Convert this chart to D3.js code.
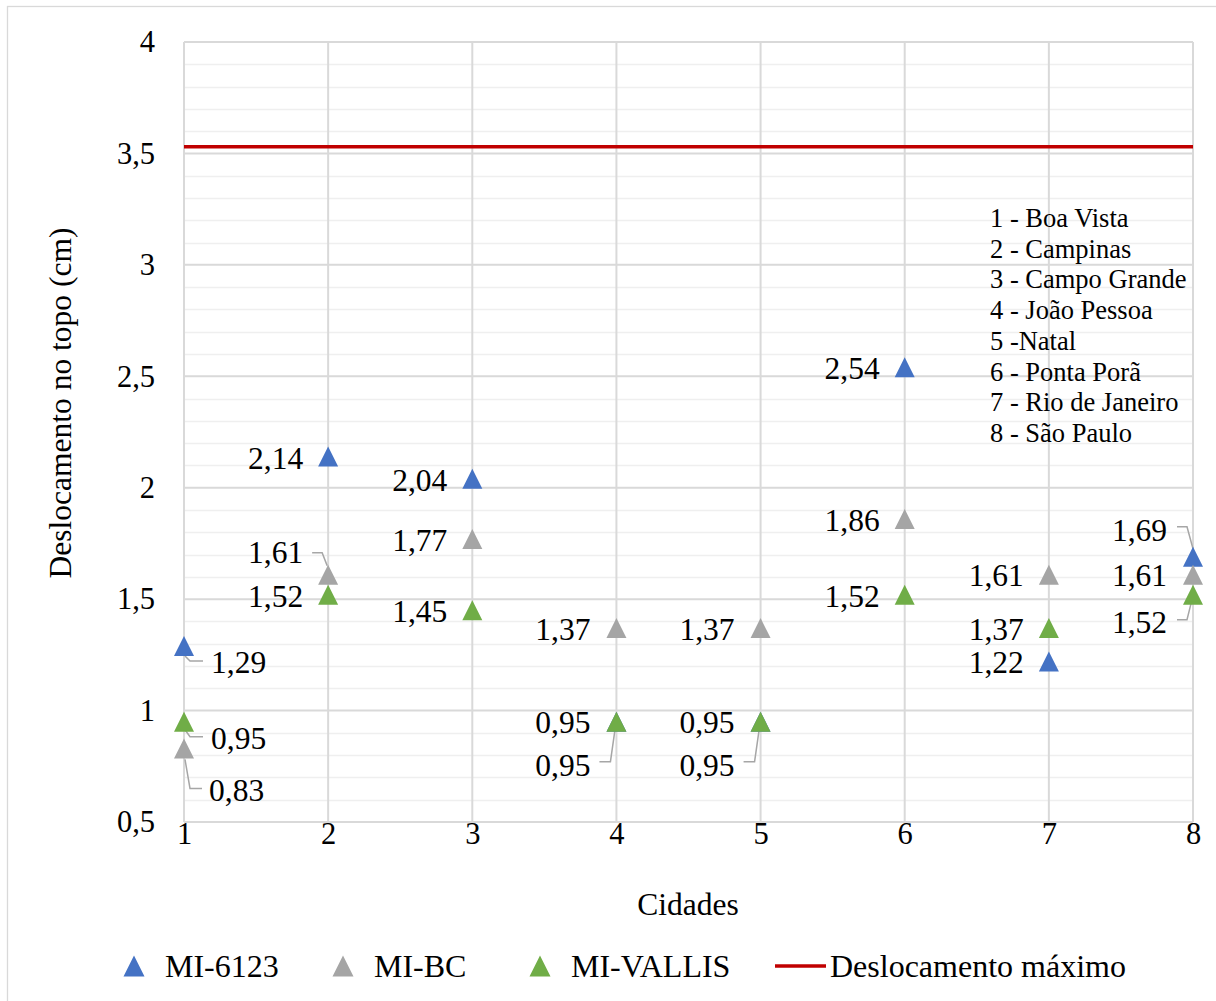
<!DOCTYPE html>
<html>
<head>
<meta charset="utf-8">
<script src="https://cdn.jsdelivr.net/npm/d3@7"></script>
<style>
  html, body { margin: 0; padding: 0; background: #fff; }
  svg { display: block; font-family: "Liberation Serif", "Times New Roman", serif; }
</style>
</head>
<body>
<svg id="chart" width="1216" height="1001"></svg>
<script>
// Cities (x axis categories) and their names
const cities = [1, 2, 3, 4, 5, 6, 7, 8];
const cityNames = [
  "1 - Boa Vista", "2 - Campinas", "3 - Campo Grande", "4 - João Pessoa",
  "5 -Natal", "6 - Ponta Porã", "7 - Rio de Janeiro", "8 - São Paulo"
];

// Top displacement (cm) per city for each model
const mi6123   = [1.29, 2.14, 2.04, 0.95, 0.95, 2.54, 1.22, 1.69];
const miBC     = [0.83, 1.61, 1.77, 1.37, 1.37, 1.86, 1.61, 1.61];
const miVallis = [0.95, 1.52, 1.45, 0.95, 0.95, 1.52, 1.37, 1.52];

// Maximum allowed displacement (cm)
const deslocMax = 3.53;

// Axis ticks
const yTicks = [0.5, 1, 1.5, 2, 2.5, 3, 3.5, 4];
const yTickLabels = ["0,5", "1", "1,5", "2", "2,5", "3", "3,5", "4"];
const xTickLabels = ["1", "2", "3", "4", "5", "6", "7", "8"];

const seriesNames = ["MI-6123", "MI-BC", "MI-VALLIS"];
const seriesColors = ["#4472c4", "#a5a5a5", "#70ad47"];
const seriesValues = [mi6123, miBC, miVallis];

// Data label placement: [anchor, dx, dy, leader polyline relative to the point or null]
const labelLayout = [
  [ // MI-6123 (points at cities 4 and 5 sit under MI-VALLIS, so their labels go below)
    ["start", 27, 16, [[1, 10], [6, 15], [19, 15]]],
    ["end", -25, 1.5, null],
    ["end", -25, 1, null],
    ["end", -26, 43, [[-17, 40], [-6, 40], [-1, 5]]],
    ["end", -26, 43, [[-17, 40], [-6, 40], [-1, 5]]],
    ["end", -25, 0.6, null],
    ["end", -25, 0, null],
    ["end", -26, -27, [[-16, -30], [-6, -30], [0, -8]]]
  ],
  [ // MI-BC
    ["start", 25, 41.5, [[1, 11], [6, 40], [18, 40]]],
    ["end", -25, -22.6, [[-16, -22], [-6, -22], [-1, -9]]],
    ["end", -25, 1, null],
    ["end", -26, 1, null],
    ["end", -26, 1, null],
    ["end", -25, 1, null],
    ["end", -25, 0, null],
    ["end", -26, 0, null]
  ],
  [ // MI-VALLIS
    ["start", 27, 16, [[1, 8], [6, 15], [19, 15]]],
    ["end", -25, 1.3, null],
    ["end", -25, 0.7, null],
    ["end", -26, 0, null],
    ["end", -26, 0, null],
    ["end", -25, 1, null],
    ["end", -25, 1, null],
    ["end", -26, 27, [[-16, 25], [-6, 25], [-1, 5]]]
  ]
];

const fmt = d3.formatLocale({ decimal: ",", thousands: ".", grouping: [3], currency: ["", ""] }).format(".2f");

const svg = d3.select("#chart");
const W = 1216, H = 1001;

// Outer chart border
svg.append("rect")
  .attr("x", 7.5).attr("y", 6.5).attr("width", W + 10).attr("height", H + 10)
  .attr("fill", "#fff").attr("stroke", "#d9d9d9").attr("stroke-width", 1.3);

const plot = { left: 184, right: 1193, top: 42, bottom: 822 };

const x = d3.scaleLinear().domain([1, 8]).range([plot.left, plot.right]);
const y = d3.scaleLinear().domain([0.5, 4]).range([plot.bottom, plot.top]);

// Minor horizontal gridlines every 0.1
const minor = d3.range(5, 41).map(d => d / 10).filter(v => Math.abs(v * 2 - Math.round(v * 2)) > 1e-6);
svg.append("g")
  .selectAll("line").data(minor).join("line")
  .attr("x1", plot.left).attr("x2", plot.right)
  .attr("y1", d => Math.round(y(d)) + 0.5).attr("y2", d => Math.round(y(d)) + 0.5)
  .attr("stroke", "#efefef").attr("stroke-width", 1.6);

// Major horizontal gridlines
svg.append("g")
  .selectAll("line").data(yTicks).join("line")
  .attr("x1", plot.left).attr("x2", plot.right)
  .attr("y1", d => y(d)).attr("y2", d => y(d))
  .attr("stroke", "#d9d9d9").attr("stroke-width", 2);

// Vertical gridlines at each city
svg.append("g")
  .selectAll("line").data(cities).join("line")
  .attr("x1", d => x(d)).attr("x2", d => x(d))
  .attr("y1", plot.top).attr("y2", plot.bottom)
  .attr("stroke", "#d9d9d9").attr("stroke-width", 2);

// Y axis tick labels
const yAxis = d3.axisLeft(y).tickValues(yTicks).tickSize(0).tickPadding(29)
  .tickFormat((d, i) => yTickLabels[i]);
const gy = svg.append("g").attr("transform", `translate(${plot.left},0)`).call(yAxis);
gy.select(".domain").remove();
gy.selectAll("text").attr("font-size", 30.5).attr("fill", "#000")
  .attr("font-family", "Liberation Serif, Times New Roman, serif");

// X axis tick labels
const xAxis = d3.axisBottom(x).tickValues(cities).tickSize(0).tickPadding(0)
  .tickFormat((d, i) => xTickLabels[i]);
const gx = svg.append("g").attr("transform", `translate(0,${plot.bottom})`).call(xAxis);
gx.select(".domain").remove();
gx.selectAll("text").attr("font-size", 30.5).attr("fill", "#000").attr("dy", "0.71em").attr("y", 0)
  .attr("font-family", "Liberation Serif, Times New Roman, serif");

// Axis titles
svg.append("text")
  .attr("transform", `translate(71,403) rotate(-90)`)
  .attr("text-anchor", "middle").attr("font-size", 31.5).attr("fill", "#000")
  .text("Deslocamento no topo (cm)");
svg.append("text")
  .attr("x", 688).attr("y", 915).attr("text-anchor", "middle")
  .attr("font-size", 31.5).attr("fill", "#000").text("Cidades");

// Maximum displacement line
svg.append("line")
  .attr("x1", plot.left).attr("x2", plot.right)
  .attr("y1", y(deslocMax)).attr("y2", y(deslocMax))
  .attr("stroke", "#c00000").attr("stroke-width", 3.5);

// City name list
svg.append("g").selectAll("text").data(cityNames).join("text")
  .attr("x", 990).attr("y", (d, i) => 227 + i * 30.7)
  .attr("font-size", 26.5).attr("fill", "#000").text(d => d);

// Triangle marker path centred on its bounding box
const tri = (s) => `M0,${-s / 2}L${s / 2},${s / 2}L${-s / 2},${s / 2}Z`;

// Leader lines
const leaders = [];
seriesValues.forEach((vals, si) => vals.forEach((v, ci) => {
  const lay = labelLayout[si][ci];
  if (lay[3]) leaders.push({ px: x(cities[ci]), py: y(v), pts: lay[3] });
}));
svg.append("g").selectAll("path").data(leaders).join("path")
  .attr("d", d => d3.line()(d.pts.map(p => [d.px + p[0], d.py + p[1]])))
  .attr("fill", "none").attr("stroke", "#a6a6a6").attr("stroke-width", 1.5);

// Markers
seriesValues.forEach((vals, si) => {
  svg.append("g").selectAll("path").data(vals).join("path")
    .attr("transform", (v, ci) => `translate(${x(cities[ci])},${y(v)})`)
    .attr("d", tri(20)).attr("fill", seriesColors[si]);
});

// Data labels
seriesValues.forEach((vals, si) => {
  svg.append("g").selectAll("text").data(vals).join("text")
    .attr("x", (v, ci) => x(cities[ci]) + labelLayout[si][ci][1])
    .attr("y", (v, ci) => y(v) + labelLayout[si][ci][2])
    .attr("dy", "0.35em")
    .attr("text-anchor", (v, ci) => labelLayout[si][ci][0])
    .attr("font-size", 31.5).attr("fill", "#000")
    .text(v => fmt(v));
});

// Legend
const legendY = 966;
const legendItems = [
  { name: seriesNames[0], color: seriesColors[0], mx: 134, tx: 165, type: "tri" },
  { name: seriesNames[1], color: seriesColors[1], mx: 343, tx: 374, type: "tri" },
  { name: seriesNames[2], color: seriesColors[2], mx: 540, tx: 571, type: "tri" },
  { name: "Deslocamento máximo", color: "#c00000", mx: 800, tx: 830, type: "line" }
];
const lg = svg.append("g");
legendItems.forEach(it => {
  if (it.type === "tri") {
    lg.append("path").attr("transform", `translate(${it.mx},${legendY})`)
      .attr("d", tri(21)).attr("fill", it.color);
  } else {
    lg.append("line").attr("x1", it.mx - 25).attr("x2", it.mx + 26)
      .attr("y1", legendY).attr("y2", legendY)
      .attr("stroke", it.color).attr("stroke-width", 3.5);
  }
  lg.append("text").attr("x", it.tx).attr("y", legendY).attr("dy", "0.35em")
    .attr("font-size", 32).attr("fill", "#000").text(it.name);
});
</script>
</body>
</html>
